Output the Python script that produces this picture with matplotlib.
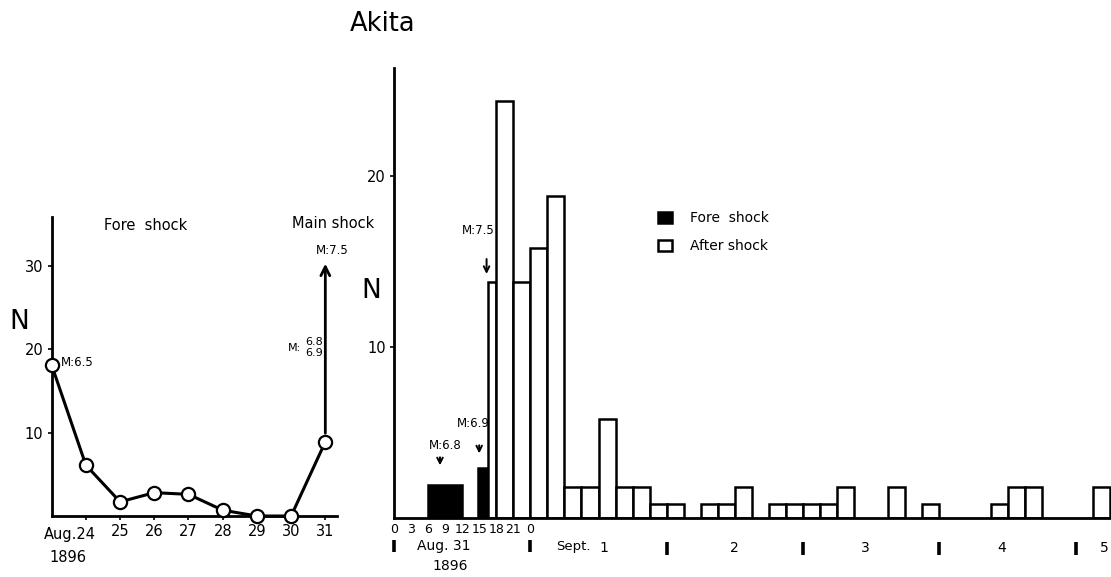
import matplotlib
matplotlib.use('Agg')
import matplotlib.pyplot as plt
import matplotlib.transforms as mtransforms

## --- Data --- ##

# left panel: daily number of fore shocks, Aug. 23 - 31, 1896
fore_days = [23, 24, 25, 26, 27, 28, 29, 30, 31]
fore_counts = [18.1, 6.1, 1.7, 2.8, 2.6, 0.7, 0, 0, 8.9]
day_ticks = [24, 25, 26, 27, 28, 29, 30, 31]
day_labels = ['', '25', '26', '27', '28', '29', '30', '31']

# right panel: 3-hour counts, hours counted from Aug. 31 0h
fs_start = [6, 14.75]
fs_width = [6, 1.85]
fs_n = [1.9, 2.9]

as_start = [16.6, 18, 21, 24, 27, 30, 33, 36, 39, 42, 45, 48, 54, 57, 60,
            66, 69, 72, 75, 78, 87, 93, 105, 108, 111, 123]
as_width = [1.4] + [3] * 25
as_n = [13.8, 24.4, 13.8, 15.8, 18.8, 1.8, 1.8, 5.8, 1.8, 1.8, 0.8, 0.8, 0.8,
        0.8, 1.8, 0.8, 0.8, 0.8, 0.8, 1.8, 1.8, 0.8, 0.8, 1.8, 1.8, 1.8]

hour_ticks = [0, 3, 6, 9, 12, 15, 18, 21, 24]
hour_labels = ['0', '3', '6', '9', '12', '15', '18', '21', '0']
day_marks = [0, 24, 48, 72, 96, 120]
sept_pos = [37, 60, 83, 107, 125]
sept_labels = ['1', '2', '3', '4', '5']

LW = 2.0

fig = plt.figure(figsize=(11.11, 5.77), dpi=100)
fig.patch.set_facecolor('white')

## --- Left panel --- ##
axl = fig.add_axes([0.0465, 0.1057, 0.2571, 0.5187])
axl.plot(fore_days, fore_counts, color='black', lw=2.2, marker='o', ms=9.5,
         mfc='white', mec='black', mew=1.6, clip_on=False, zorder=3)
axl.set_xlim(23, 31.35)
axl.set_ylim(0, 35.9)
for s in ['top', 'right']:
    axl.spines[s].set_visible(False)
for s in ['left', 'bottom']:
    axl.spines[s].set_linewidth(LW)
axl.set_xticks(day_ticks)
axl.set_xticklabels(day_labels, fontsize=10.5)
axl.set_yticks([10, 20, 30])
axl.set_yticklabels(['10', '20', '30'], fontsize=10.5)
axl.tick_params(axis='both', length=3, width=1.2, pad=3)

tl = mtransforms.blended_transform_factory(axl.transData, axl.transAxes)
axl.text(24.3, -0.062, 'Aug.24', transform=tl, ha='right', va='center', fontsize=10.5)
axl.text(23.47, -0.14, '1896', transform=tl, ha='center', va='center', fontsize=10.5)

axl.annotate('', xy=(31.0, 30.6), xytext=(31.0, 9.6),
             arrowprops=dict(arrowstyle='->', lw=2, color='black', mutation_scale=16))
axl.text(23.27, 18.4, 'M:6.5', fontsize=8.5, ha='left', va='center')
axl.text(31.19, 31.8, 'M:7.5', fontsize=8.5, ha='center', va='center')
axl.text(30.30, 20.2, 'M:', fontsize=8, ha='right', va='center')
axl.text(30.66, 20.9, '6.8', fontsize=8, ha='center', va='center')
axl.text(30.66, 19.5, '6.9', fontsize=8, ha='center', va='center')
axl.text(25.75, 34.9, 'Fore  shock', fontsize=10.5, ha='center', va='center')
axl.text(31.23, 35.05, 'Main shock', fontsize=10.5, ha='center', va='center')

## --- Right panel --- ##
axr = fig.add_axes([0.3546, 0.1028, 0.6454, 0.7788])
axr.bar(fs_start, fs_n, width=fs_width, align='edge', color='black',
        edgecolor='black', lw=1.8, label='Fore  shock')
axr.bar(as_start, as_n, width=as_width, align='edge', color='white',
        edgecolor='black', lw=1.8, label='After shock')
axr.set_xlim(0, 126.2)
axr.set_ylim(0, 26.3)
for s in ['top', 'right']:
    axr.spines[s].set_visible(False)
for s in ['left', 'bottom']:
    axr.spines[s].set_linewidth(LW)
axr.set_yticks([10, 20])
axr.set_yticklabels(['10', '20'], fontsize=10.5)
axr.set_xticks(hour_ticks)
axr.set_xticklabels(hour_labels, fontsize=9)
axr.tick_params(axis='x', length=0, pad=4)
axr.tick_params(axis='y', length=3, width=1.2, pad=3)

tr = mtransforms.blended_transform_factory(axr.transData, axr.transAxes)
for i, h in enumerate(day_marks):
    yc = -0.063 if i < 2 else -0.068
    axr.plot([h, h], [yc - 0.014, yc + 0.014], color='black', lw=2.6,
             transform=tr, clip_on=False, solid_capstyle='butt')
axr.text(8.8, -0.064, 'Aug. 31', transform=tr, ha='center', va='center', fontsize=10)
axr.text(9.9, -0.108, '1896', transform=tr, ha='center', va='center', fontsize=10)
axr.text(31.5, -0.065, 'Sept.', transform=tr, ha='center', va='center', fontsize=9.5)
for p, lab in zip(sept_pos, sept_labels):
    axr.text(p, -0.068, lab, transform=tr, ha='center', va='center', fontsize=10)

# magnitude arrows
axr.annotate('', xy=(8.1, 2.9), xytext=(8.1, 3.7),
             arrowprops=dict(arrowstyle='->', lw=1.4, color='black', mutation_scale=10))
axr.text(9.1, 4.25, 'M:6.8', fontsize=8.5, ha='center', va='center')
axr.annotate('', xy=(15.0, 3.6), xytext=(15.0, 4.4),
             arrowprops=dict(arrowstyle='->', lw=1.4, color='black', mutation_scale=10))
axr.text(14.0, 5.5, 'M:6.9', fontsize=8.5, ha='center', va='center')
axr.annotate('', xy=(16.3, 14.1), xytext=(16.3, 15.3),
             arrowprops=dict(arrowstyle='->', lw=1.4, color='black', mutation_scale=10))
axr.text(14.8, 16.8, 'M:7.5', fontsize=8.5, ha='center', va='center')

axr.legend(loc='upper left', bbox_to_anchor=(0.368, 0.682), frameon=False,
           fontsize=10, borderpad=0, borderaxespad=0, handlelength=1.0,
           handleheight=0.9, handletextpad=1.3, labelspacing=1.0)

fig.text(0.0171, 0.4425, 'N', fontsize=19, ha='center', va='center')
fig.text(0.334, 0.4957, 'N', fontsize=19, ha='center', va='center')
fig.text(0.344, 0.958, 'Akita', fontsize=18.5, ha='center', va='center')

fig.savefig('out.png', dpi=100)
